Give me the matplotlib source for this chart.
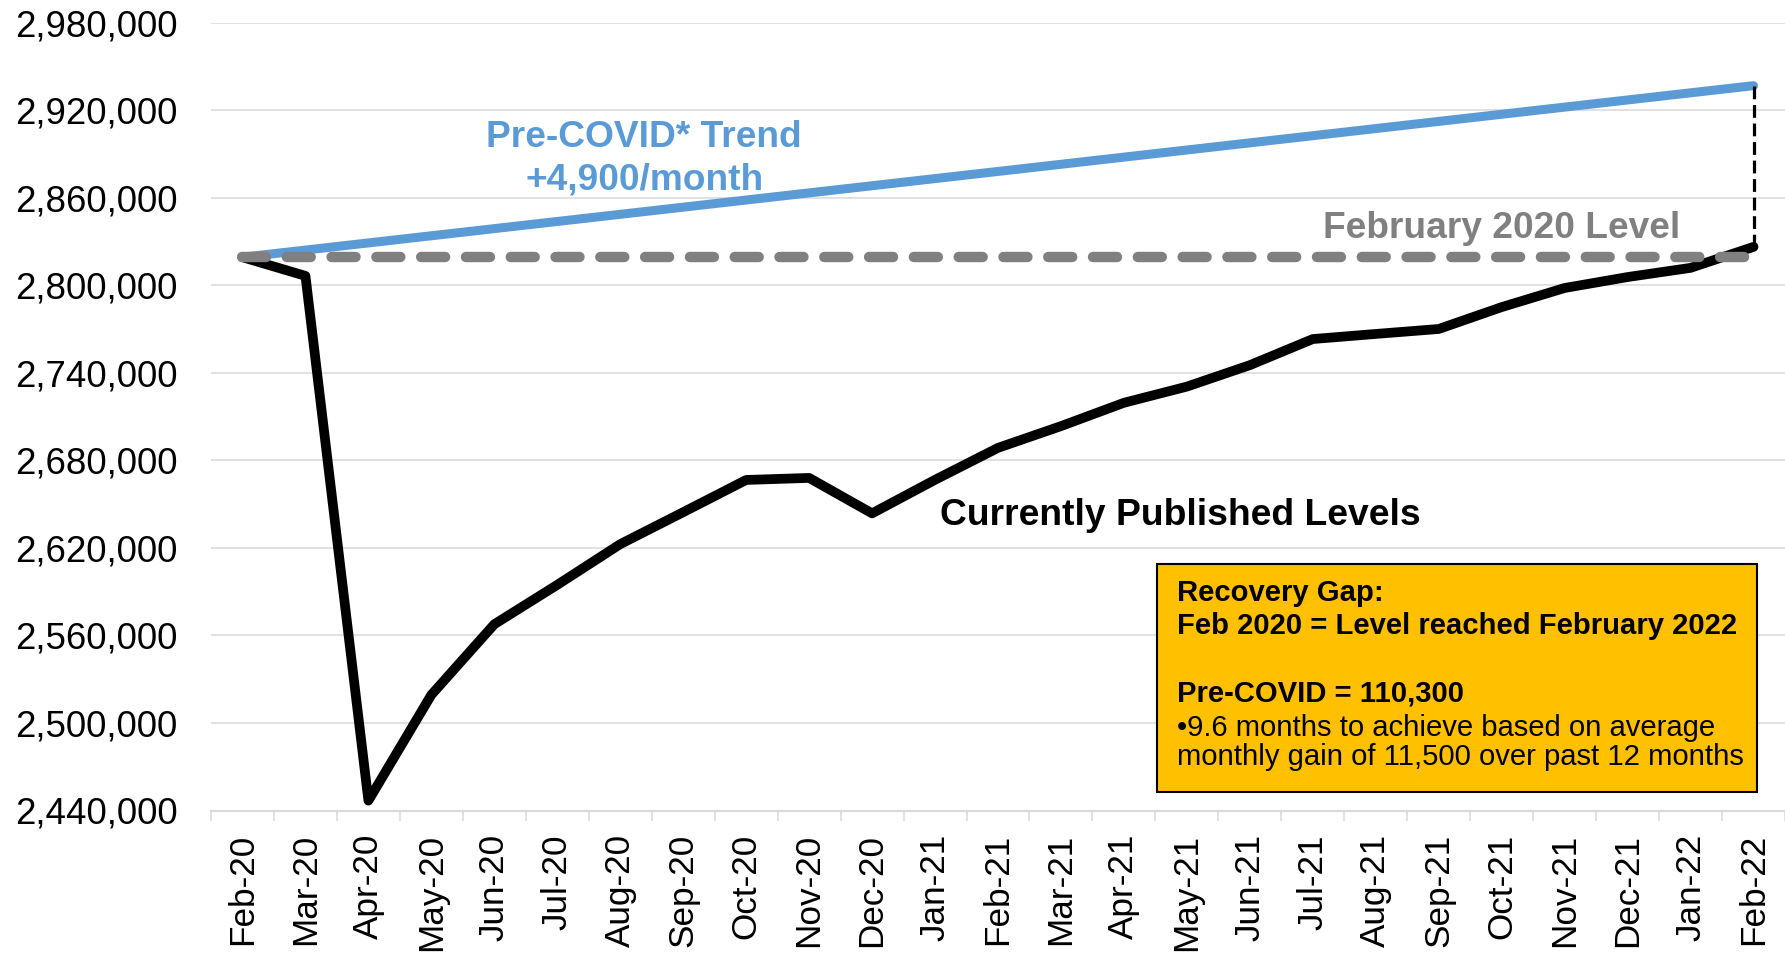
import matplotlib.pyplot as plt
from matplotlib.patches import Rectangle

plt.rcParams['font.family'] = ['Liberation Sans', 'DejaVu Sans']

# Data

months = ["Feb-20", "Mar-20", "Apr-20", "May-20", "Jun-20", "Jul-20", "Aug-20",
          "Sep-20", "Oct-20", "Nov-20", "Dec-20", "Jan-21", "Feb-21", "Mar-21",
          "Apr-21", "May-21", "Jun-21", "Jul-21", "Aug-21", "Sep-21", "Oct-21",
          "Nov-21", "Dec-21", "Jan-22", "Feb-22"]

published = [2819300, 2806500, 2446800, 2519300, 2567700, 2594700, 2622600,
             2644500, 2666600, 2668000, 2643700, 2666700, 2688600, 2703500,
             2719500, 2730600, 2745300, 2763200, 2766700, 2770100, 2785100,
             2798200, 2805700, 2812000, 2826400]

trend = [2819300, 2824200, 2829100, 2834000, 2838900, 2843800, 2848700,
         2853600, 2858500, 2863400, 2868300, 2873200, 2878100, 2883000,
         2887900, 2892800, 2897700, 2902600, 2907500, 2912400, 2917300,
         2922200, 2927100, 2932000, 2936900]

feb2020_level = 2819300

y_ticks = [2440000, 2500000, 2560000, 2620000, 2680000, 2740000,
           2800000, 2860000, 2920000, 2980000]

W, H = 1785, 958


def fig_xy(px, py):
    return px / W, 1 - py / H


# Figure & axes

fig = plt.figure(figsize=(W / 100, H / 100), dpi=100)
ax = fig.add_axes([211 / W, 1 - 810.5 / H, 1 - 211 / W, (810.5 - 22.8) / H])

x = list(range(len(months)))

ax.plot(x, published, color="black", lw=7, solid_capstyle="round",
        solid_joinstyle="round", zorder=3)
ax.plot(x, trend, color="#5B9BD5", lw=6.5, solid_capstyle="round", zorder=4)
ax.plot(x, [feb2020_level] * len(x), color="#808080", lw=7.5,
        linestyle=(0, (2.3, 2.0)), dash_capstyle="round", zorder=5)
ax.plot([x[-1], x[-1]], [published[-1], trend[-1]], color="black", lw=2.3,
        linestyle=(0, (4.0, 1.8)), zorder=6)

ax.set_xlim(-0.5, len(months) - 0.5)
ax.set_ylim(y_ticks[0], y_ticks[-1])
ax.set_yticks(y_ticks)
ax.set_yticklabels([f"{v:,}" for v in y_ticks])
ax.grid(axis="y", color="#D9D9D9", lw=1.1)
ax.set_axisbelow(True)

ax.set_xticks(x)
ax.set_xticklabels(months, rotation=90, ha="center", va="top")
ax.set_xticks([i - 0.5 for i in range(len(months) + 1)], minor=True)
ax.tick_params(axis="x", which="major", length=0, pad=17, labelsize=25.3)
ax.tick_params(axis="x", which="minor", length=7.5, width=1.1, color="#D9D9D9")
ax.tick_params(axis="y", length=0, pad=24, labelsize=26.4)

for side in ["left", "right", "top"]:
    ax.spines[side].set_visible(False)
ax.spines["bottom"].set_color("#D9D9D9")
ax.spines["bottom"].set_linewidth(1.5)

# Annotations

ax.text(6.38, 2901200, "Pre-COVID* Trend", color="#5B9BD5", fontsize=26.7,
        fontweight="bold", ha="center", va="center")
ax.text(6.38, 2872000, "+4,900/month", color="#5B9BD5", fontsize=26.7,
        fontweight="bold", ha="center", va="center")
ax.text(22.83, 2838800, "February 2020 Level", color="#808080", fontsize=26.7,
        fontweight="bold", ha="right", va="center")
ax.text(11.08, 2642200, "Currently Published Levels", color="black",
        fontsize=26.8, fontweight="bold", ha="left", va="center")

# Recovery gap box

bx, by = fig_xy(1156.6, 792.3)
fig.patches.append(Rectangle((bx, by), 600 / W, 228.8 / H, transform=fig.transFigure,
                             facecolor="#FFC000", edgecolor="black", lw=1.5, zorder=10))

box_lines = [
    ("Recovery Gap:", 601, "bold"),
    ("Feb 2020 = Level reached February 2022", 634, "bold"),
    ("Pre-COVID = 110,300", 701, "bold"),
    ("\u20229.6 months to achieve based on average", 736, "normal"),
    ("monthly gain of 11,500 over past 12 months", 765, "normal"),
]
for txt, base_y, weight in box_lines:
    tx, ty = fig_xy(1177, base_y)
    fig.text(tx, ty, txt, fontsize=21.1, fontweight=weight, ha="left",
             va="baseline", zorder=11)

fig.savefig("out.png", dpi=100)
